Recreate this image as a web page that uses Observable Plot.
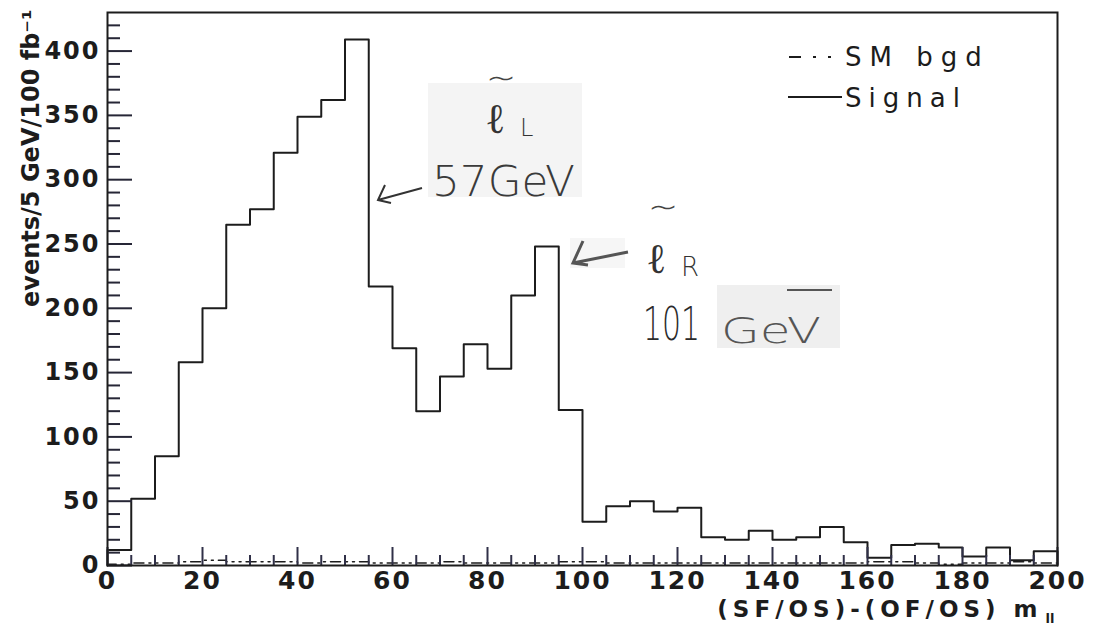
<!DOCTYPE html>
<html><head><meta charset="utf-8">
<script src="https://cdn.jsdelivr.net/npm/d3@7"></script>
<script src="https://cdn.jsdelivr.net/npm/@observablehq/plot@0.6"></script>
<style>body{margin:0;background:#fff}</style>
</head><body><div id="chart"></div>
<script>
// bin width (GeV) and bin contents, bins 0-5, 5-10, ..., 195-200
const binWidth = 5;
const signal = [12,52,85,158,200,265,277,321,349,362,409,217,169,120,147,172,153,210,248,121,34,46,50,42,45,22,20,27,20,22,30,18,6,16,17,14,7,14,4,11];
const smBgd  = [1,2,2,3,4,3,3,3,2,3,3,2,2,2,3,2,2,2,2,3,3,2,2,2,2,2,2,2,2,2,2,2,3,3,2,1,2,2,3,2];
const xTicks = [0,20,40,60,80,100,120,140,160,180,200];
const xMinor = [5,10,15,25,30,35,45,50,55,65,70,75,85,90,95,105,110,115,125,130,135,145,150,155,165,170,175,185,190,195];
const yTicks = [0,50,100,150,200,250,300,350,400];
const yMinor = [10,20,30,40,60,70,80,90,110,120,130,140,160,170,180,190,210,220,230,240,260,270,280,290,310,320,330,340,360,370,380,390,410,420];
const legendLabels = ["SM bgd","Signal"];

function steps(vals){
  const pts = [{x:0,y:0}];
  vals.forEach((v,i)=>pts.push({x:i*binWidth,y:v}));
  pts.push({x:vals.length*binWidth,y:vals[vals.length-1]});
  pts.push({x:vals.length*binWidth,y:0});
  return pts;
}
const W = 1095, H = 631, ML = 107, MR = 38, MT = 12, MB = 66;
const ink = "#1c1c1c";
// x units per pixel (200 GeV over the 950 px frame), used only to give the tick rules their pixel lengths
const xPerPx = 200 / (W - ML - MR);
try {
const plotEl = Plot.plot({
  width:W, height:H,
  marginLeft:ML, marginRight:MR, marginTop:MT, marginBottom:MB,
  x:{domain:[0,200]}, y:{domain:[0,430]},
  style:{fontFamily:"DejaVu Sans", background:"#fff", color:ink},
  marks:[
    Plot.line(steps(smBgd), {x:"x", y:"y", curve:"step-after", stroke:ink, strokeWidth:1.5, strokeDasharray:"10,5,2,5,2,5"}),
    Plot.line(steps(signal), {x:"x", y:"y", curve:"step-after", stroke:ink, strokeWidth:2}),
    // inward ticks
    Plot.ruleY(yMinor, {y:d=>d, x1:0, x2:13*xPerPx, stroke:"#262636", strokeWidth:2}),
    Plot.ruleY(yTicks, {y:d=>d, x1:0, x2:25*xPerPx, stroke:"#262636", strokeWidth:2}),
    Plot.axisX(xMinor, {tickSize:10, dy:-10, fill:"none", stroke:"#303048", strokeWidth:2}),
    Plot.axisX(xTicks, {tickSize:18, dy:-18, fill:"none", stroke:"#303048", strokeWidth:2}),
    Plot.axisY(yTicks, {tickSize:0, tickPadding:7, fontSize:24, fontWeight:"bold", label:null}),
    Plot.axisX(xTicks, {tickSize:0, tickPadding:6, fontSize:25, fontWeight:"bold", label:null}),
    Plot.frame({stroke:ink, strokeWidth:2}),
    Plot.text(["events/5 GeV/100 fb⁻¹"], {frameAnchor:"top-left", rotate:-90, textAnchor:"end", lineAnchor:"middle", dx:-76, dy:-3, fontSize:24, fontWeight:"bold"}),
    Plot.text(["(SF/OS)-(OF/OS) m"], {frameAnchor:"bottom-right", textAnchor:"end", lineAnchor:"middle", dx:-15, dy:44, fontSize:23, fontWeight:"bold"}),
    Plot.text(["ll"], {frameAnchor:"bottom-right", textAnchor:"start", lineAnchor:"middle", dx:-12, dy:53, fontSize:13, fontWeight:"bold"})
  ]
});
document.getElementById("chart").append(plotEl);

const svg = d3.select(plotEl);
svg.selectAll("text").filter(function(){return this.textContent.startsWith("(SF");}).attr("letter-spacing", 5);
svg.selectAll("g[aria-label='y-axis tick label'] text, g[aria-label='x-axis tick label'] text").attr("letter-spacing", 2);

// legend
const lg = svg.append("g").attr("font-family","DejaVu Sans").attr("font-size",26).attr("fill",ink).attr("text-anchor","start");
lg.append("line").attr("x1",789).attr("x2",832).attr("y1",57).attr("y2",57).attr("stroke",ink).attr("stroke-width",2).attr("stroke-dasharray","12,12,3,12,3");
lg.append("line").attr("x1",788).attr("x2",842).attr("y1",97).attr("y2",97).attr("stroke",ink).attr("stroke-width",2);
lg.append("text").attr("x",845).attr("y",66).attr("letter-spacing",8).text(legendLabels[0]);
lg.append("text").attr("x",845).attr("y",107).attr("letter-spacing",7).text(legendLabels[1]);

// handwritten annotations
const an = svg.append("g").attr("font-family","DejaVu Sans").attr("font-weight",200).attr("text-anchor","start");
an.append("rect").attr("x",428).attr("y",83).attr("width",154).attr("height",114).attr("fill","#f4f4f4");
an.append("rect").attr("x",570).attr("y",238).attr("width",55).attr("height",30).attr("fill","#f6f6f6");
an.append("rect").attr("x",717).attr("y",285).attr("width",123).attr("height",63).attr("fill","#efefef");
an.append("text").attr("x",486).attr("y",90).attr("font-size",36).attr("fill","#444").text("~");
an.append("text").attr("x",485).attr("y",133).attr("font-size",42).attr("fill","#333").text("ℓ");
an.append("text").attr("x",520).attr("y",136).attr("font-size",24).attr("fill","#333").text("L");
an.append("text").attr("x",432).attr("y",196).attr("font-size",42).attr("fill","#3a3a3a").attr("textLength",143).attr("lengthAdjust","spacingAndGlyphs").text("57GeV");
an.append("path").attr("d","M422,188 L378,200 M385,185 L378,200 L391,203").attr("fill","none").attr("stroke","#333").attr("stroke-width",2);
an.append("text").attr("x",648).attr("y",219).attr("font-size",36).attr("fill","#444").text("~");
an.append("text").attr("x",646).attr("y",273).attr("font-size",42).attr("fill","#333").text("ℓ");
an.append("text").attr("x",681).attr("y",276).attr("font-size",26).attr("fill","#333").text("R");
an.append("path").attr("d","M628,252 L573,263 M583,241 L573,263 L588,265").attr("fill","none").attr("stroke","#555").attr("stroke-width",3);
an.append("text").attr("x",643).attr("y",340).attr("font-size",46).attr("fill","#2a2a2a").attr("textLength",57).attr("lengthAdjust","spacingAndGlyphs").text("101");
an.append("text").attr("x",721).attr("y",343).attr("font-size",36).attr("fill","#555").attr("textLength",100).attr("lengthAdjust","spacingAndGlyphs").text("GeV");
an.append("path").attr("d","M787,290 L832,290").attr("stroke","#555").attr("stroke-width",2);
} catch(e) { document.body.append("ERR " + e.message); }
</script>
</body></html>
